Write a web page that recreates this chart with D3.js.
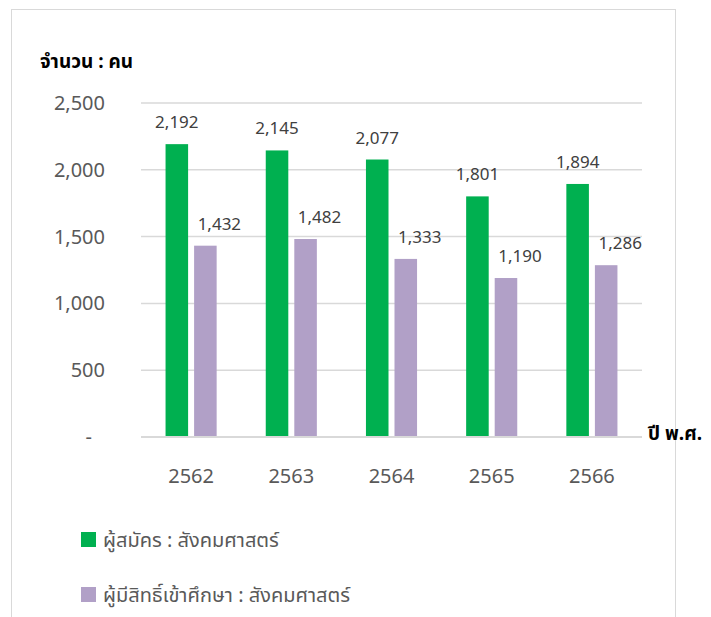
<!doctype html>
<html>
<head>
<meta charset="utf-8">
<style>
  body { margin: 0; background: white; }
  svg text { font-family: "Noto Sans Thai", "Noto Sans", "Open Sans", sans-serif; }
</style>
<script src="https://d3js.org/d3.v7.min.js"></script>
</head>
<body>
<script>
// data
var years = ['2562', '2563', '2564', '2565', '2566'];
var applicants = [2192, 2145, 2077, 1801, 1894];
var admitted = [1432, 1482, 1333, 1190, 1286];
var seriesNames = ['ผู้สมัคร : สังคมศาสตร์', 'ผู้มีสิทธิ์เข้าศึกษา : สังคมศาสตร์'];
var seriesColors = ['#00b050', '#b1a0c7'];
var yTicks = [0, 500, 1000, 1500, 2000, 2500];

var W = 711, H = 617;
var plot = { left: 141, right: 642, top: 103, bottom: 437 };

var svg = d3.select('body').append('svg')
  .attr('width', W)
  .attr('height', H);

// chart frame
svg.append('rect')
  .attr('x', 11.5).attr('y', 9.5)
  .attr('width', 664).attr('height', 640)
  .attr('fill', 'none')
  .attr('stroke', '#d9d9d9');

var x0 = d3.scaleBand().domain(years)
  .range([plot.left, plot.right])
  .paddingInner(0.49).paddingOuter(0.245);
var x1 = d3.scaleBand().domain([0, 1])
  .range([0, x0.bandwidth()])
  .paddingInner(0.21);
var y = d3.scaleLinear().domain([0, 2500]).range([plot.bottom, plot.top]);

// gridlines
svg.append('g').selectAll('line')
  .data(yTicks.filter(d => d > 0))
  .enter().append('line')
  .attr('x1', plot.left).attr('x2', plot.right)
  .attr('y1', d => y(d)).attr('y2', d => y(d))
  .attr('stroke', '#d9d9d9').attr('stroke-width', 1.5);

// y axis labels
var fmt = d3.format(',');
var yAxis = svg.append('g')
  .attr('transform', 'translate(' + plot.left + ',0)')
  .call(d3.axisLeft(y).tickValues(yTicks).tickSize(0).tickPadding(36)
    .tickFormat(d => d === 0 ? '-' : fmt(d)));
yAxis.select('.domain').remove();
yAxis.selectAll('text')
  .attr('fill', '#595959')
  .style('font-size', '20px');
yAxis.selectAll('.tick').filter(d => d === 0).select('text')
  .attr('x', -49);

// bars
var rows = years.map((yr, i) => ({ year: yr, vals: [applicants[i], admitted[i]] }));
var groups = svg.selectAll('.grp')
  .data(rows)
  .enter().append('g')
  .attr('class', 'grp')
  .attr('transform', d => 'translate(' + x0(d.year) + ',0)');

groups.selectAll('rect')
  .data(d => d.vals.map((v, k) => ({ k: k, v: v })))
  .enter().append('rect')
  .attr('x', d => x1(d.k))
  .attr('y', d => y(d.v))
  .attr('width', x1.bandwidth())
  .attr('height', d => plot.bottom - y(d.v))
  .attr('fill', d => seriesColors[d.k]);

// value labels (purple labels sit a little right, as in the original)
groups.selectAll('text.val')
  .data(d => d.vals.map((v, k) => ({ k: k, v: v })))
  .enter().append('text')
  .attr('class', 'val')
  .attr('x', d => x1(d.k) + x1.bandwidth() / 2 + (d.k === 1 ? 14 : 0))
  .attr('y', d => y(d.v) - 16)
  .attr('text-anchor', 'middle')
  .attr('fill', '#404040')
  .style('font-size', '17px')
  .text(d => fmt(d.v));

// baseline
svg.append('line')
  .attr('x1', plot.left).attr('x2', plot.right)
  .attr('y1', plot.bottom).attr('y2', plot.bottom)
  .attr('stroke', '#d9d9d9').attr('stroke-width', 2);

// x axis labels
var xAxis = svg.append('g')
  .attr('transform', 'translate(0,' + plot.bottom + ')')
  .call(d3.axisBottom(x0).tickSize(0).tickPadding(32));
xAxis.select('.domain').remove();
xAxis.selectAll('text')
  .attr('fill', '#595959')
  .style('font-size', '20px');

// axis titles
svg.append('text')
  .attr('x', 40).attr('y', 68)
  .attr('font-weight', 'bold')
  .style('font-size', '19px')
  .attr('fill', '#000')
  .text('จำนวน : คน');

svg.append('text')
  .attr('x', 648).attr('y', 440)
  .attr('font-weight', 'bold')
  .style('font-size', '19px')
  .attr('fill', '#000')
  .text('ปี พ.ศ.');

// legend
var legend = svg.selectAll('.legend')
  .data(seriesNames)
  .enter().append('g')
  .attr('class', 'legend')
  .attr('transform', (d, i) => 'translate(81,' + (532 + i * 55) + ')');

legend.append('rect')
  .attr('width', 15).attr('height', 15)
  .attr('fill', (d, i) => seriesColors[i]);

legend.append('text')
  .attr('x', 22).attr('y', 8)
  .attr('dy', '0.35em')
  .attr('fill', '#595959')
  .style('font-size', '20px')
  .text(d => d);
</script>
</body>
</html>
